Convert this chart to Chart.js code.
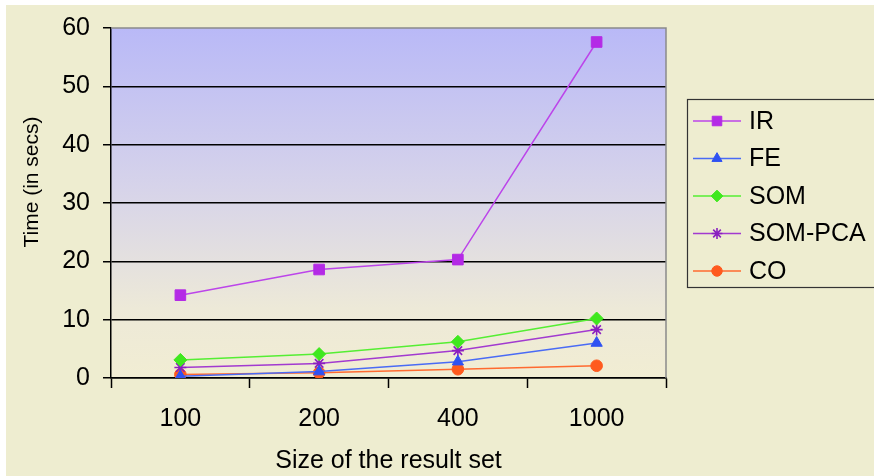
<!DOCTYPE html>
<html>
<head>
<meta charset="utf-8">
<title>Time vs size of the result set</title>
<script src="https://cdn.jsdelivr.net/npm/chart.js@4/dist/chart.umd.min.js"></script>
<style>
  html, body { margin: 0; padding: 0; background: #ffffff; }
  canvas { display: block; }
</style>
</head>
<body>
<canvas id="chart" width="874" height="476"></canvas>
<script>
// Result-set sizes on the x axis
const categories = ['100', '200', '400', '1000'];

// Elapsed time (seconds) for each method
const irTimes     = [14.2, 18.6, 20.3, 57.6];
const feTimes     = [0.3, 1.1, 2.8, 6.0];
const somTimes    = [3.1, 4.1, 6.2, 10.2];
const somPcaTimes = [1.8, 2.5, 4.7, 8.3];
const coTimes     = [0.6, 0.9, 1.5, 2.1];

// Y axis range and tick step
const yMin = 0;
const yMax = 60;
const yStep = 10;

const yAxisTitle = 'Time (in secs)';
const xAxisTitle = 'Size of the result set';

const FONT = '"Liberation Sans", Arial, sans-serif';
const CREAM = '#EEEDD0';

// Page background: thin white margin, cream panel, gradient plot area
const panelBackground = {
  id: 'panelBackground',
  beforeDraw(chart) {
    const ctx = chart.ctx;
    ctx.save();
    ctx.fillStyle = '#ffffff';
    ctx.fillRect(0, 0, chart.width, chart.height);
    ctx.fillStyle = CREAM;
    ctx.fillRect(6, 5, chart.width - 6, chart.height - 5);
    const a = chart.chartArea;
    const g = ctx.createLinearGradient(0, a.top, 0, a.bottom);
    g.addColorStop(0, '#B9B9F7');
    g.addColorStop(0.45, '#D6D3EA');
    g.addColorStop(0.8, '#EDE9D8');
    g.addColorStop(1, '#F1EDD3');
    ctx.fillStyle = g;
    ctx.fillRect(a.left, a.top, a.right - a.left, a.bottom - a.top);
    ctx.restore();
  },
  beforeDatasetsDraw(chart) {
    // grey frame on the top and right of the plot area
    const ctx = chart.ctx;
    const a = chart.chartArea;
    ctx.save();
    ctx.strokeStyle = '#8a8a8a';
    ctx.lineWidth = 1.5;
    ctx.beginPath();
    ctx.moveTo(a.left, a.top);
    ctx.lineTo(a.right, a.top);
    ctx.lineTo(a.right, a.bottom);
    ctx.stroke();
    ctx.restore();
  },
  afterDraw(chart) {
    // rotated y axis title, placed a little above the plot's middle
    const ctx = chart.ctx;
    ctx.save();
    ctx.translate(32, 182);
    ctx.rotate(-Math.PI / 2);
    ctx.fillStyle = '#000000';
    ctx.font = '21px ' + FONT;
    ctx.textAlign = 'center';
    ctx.textBaseline = 'middle';
    ctx.fillText(yAxisTitle, 0, 0);
    ctx.restore();
  }
};

// Boxed legend on the right with line + marker samples
const boxedLegend = {
  id: 'boxedLegend',
  afterDraw(chart) {
    const ctx = chart.ctx;
    const x0 = 687, y0 = 99, x1 = 880, y1 = 287;
    ctx.save();
    ctx.fillStyle = CREAM;
    ctx.fillRect(x0, y0, x1 - x0, y1 - y0);
    ctx.strokeStyle = '#333333';
    ctx.lineWidth = 1.2;
    ctx.strokeRect(x0 + 0.5, y0 + 0.5, x1 - x0, y1 - y0);
    const rowStart = 121, rowGap = 37.5;
    chart.data.datasets.forEach((ds, i) => {
      const y = rowStart + i * rowGap;
      ctx.strokeStyle = ds.borderColor;
      ctx.lineWidth = ds.borderWidth;
      ctx.beginPath();
      ctx.moveTo(693, y);
      ctx.lineTo(741, y);
      ctx.stroke();
      ctx.fillStyle = ds.pointBackgroundColor;
      ctx.strokeStyle = ds.pointBorderColor;
      ctx.lineWidth = ds.pointBorderWidth;
      Chart.helpers.drawPoint(ctx, {
        pointStyle: ds.pointStyle,
        radius: ds.pointRadius * 0.9,
        rotation: 0,
        borderWidth: ds.pointBorderWidth
      }, 717, y);
      ctx.fillStyle = '#000000';
      ctx.font = '25px ' + FONT;
      ctx.textAlign = 'left';
      ctx.textBaseline = 'middle';
      ctx.fillText(ds.label, 749, y + 1);
    });
    ctx.restore();
  }
};

function series(label, data, color, pointColor, style, radius) {
  return {
    label: label,
    data: data,
    borderColor: color,
    backgroundColor: pointColor,
    pointBackgroundColor: pointColor,
    pointBorderColor: pointColor,
    pointBorderWidth: style === 'star' ? 1.6 : 1,
    borderWidth: 1.5,
    pointStyle: style,
    pointRadius: radius,
    pointHoverRadius: radius,
    tension: 0,
    fill: false
  };
}

const datasets = [
  series('IR', irTimes, '#BC45EA', '#B42AE6', 'rect', 7.5),
  series('FE', feTimes, '#4A6BF5', '#2F52F2', 'triangle', 6.5),
  series('SOM', somTimes, '#55EE33', '#3FE81E', 'rectRot', 6.5),
  series('SOM-PCA', somPcaTimes, '#A23AD0', '#8A1FC0', 'star', 6),
  series('CO', coTimes, '#FF6A30', '#FF5A1E', 'circle', 5.8)
];

new Chart(document.getElementById('chart'), {
  type: 'line',
  data: { labels: categories, datasets: datasets },
  options: {
    responsive: false,
    animation: false,
    devicePixelRatio: 1,
    layout: { padding: { left: 0, top: 27, right: 208, bottom: 0 } },
    plugins: {
      legend: { display: false },
      tooltip: { enabled: false },
      title: { display: false }
    },
    scales: {
      x: {
        type: 'category',
        offset: true,
        afterFit(scale) { scale.height = 98; },
        grid: {
          offset: true,
          drawOnChartArea: false,
          drawTicks: true,
          tickLength: 10,
          tickColor: '#000000',
          tickWidth: 1.5
        },
        border: { display: true, color: '#000000', width: 1.5 },
        ticks: {
          color: '#000000',
          font: { family: FONT, size: 25 },
          padding: 16,
          maxRotation: 0
        },
        title: {
          display: true,
          text: xAxisTitle,
          color: '#000000',
          font: { family: FONT, size: 25 },
          padding: { top: 0, bottom: 0 }
        }
      },
      y: {
        min: yMin,
        max: yMax,
        afterFit(scale) { scale.width = 111; },
        grid: {
          color(ctx) { return ctx.tick && ctx.tick.value === yMax ? 'rgba(0,0,0,0)' : '#000000'; },
          lineWidth: 1.5,
          drawTicks: true,
          tickLength: 8,
          tickColor: '#000000',
          tickWidth: 1.5
        },
        border: { display: true, color: '#000000', width: 1.5 },
        ticks: {
          stepSize: yStep,
          color: '#000000',
          font: { family: FONT, size: 25 },
          padding: 13
        },
        title: { display: false }
      }
    }
  },
  plugins: [panelBackground, boxedLegend]
});
</script>
</body>
</html>
